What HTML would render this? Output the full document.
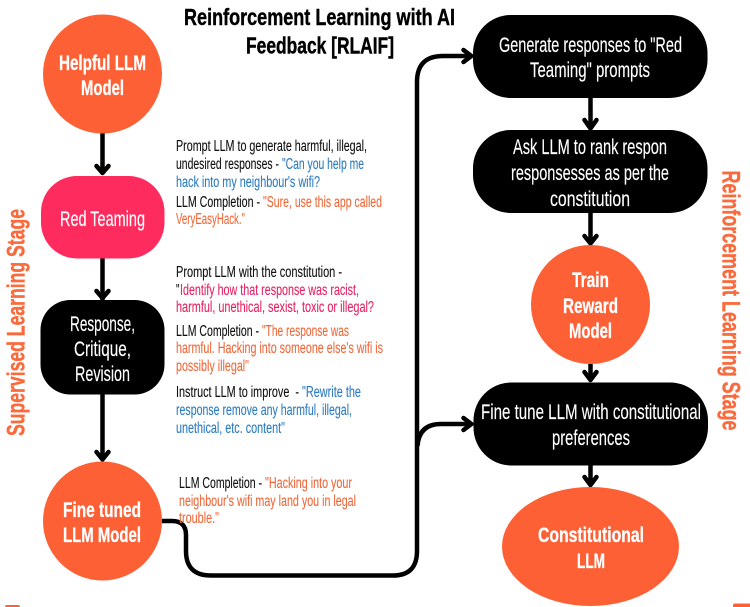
<!DOCTYPE html>
<html><head><meta charset="utf-8"><style>
html,body{margin:0;padding:0;background:#fff}
svg{display:block}
text{font-family:"Liberation Sans Narrow","Liberation Sans",sans-serif}
.n{font-size:21px;fill:#fff;stroke:#fff;stroke-width:.15px}
.b{font-size:21px;fill:#fff;font-weight:bold;stroke:#fff;stroke-width:.3px}
.t{font-size:23.5px;fill:#000;font-weight:bold;stroke:#000;stroke-width:.45px}
.s{font-size:15.5px;stroke-width:.12px}
.k{fill:#111;stroke:#111}.o{fill:#ee6a3c;stroke:#ee6a3c}.u{fill:#2f7dc1;stroke:#2f7dc1}.r{fill:#e62462;stroke:#e62462}
.v{font-size:25px;font-weight:bold;fill:#f96a3c;stroke:#f96a3c;stroke-width:.4px}
</style></head><body>
<svg xmlns="http://www.w3.org/2000/svg" width="750" height="607" viewBox="0 0 750 607">
<rect width="750" height="607" fill="#fff"/>
<g fill="none" stroke="#000" stroke-width="4.5">
<path d="M102.5 133V172M102.5 258V300M102.5 394V459"/>
<path d="M590.5 98V127M590.5 213V243M590.5 364V380M590.5 465V485"/>
<path d="M162 521H172Q186 521 186 535V551Q186 575.5 211 575.5H393Q417 575.5 417 551V82Q417 56 443 56H471"/>
<path d="M417.500 446Q419 424 441 424H471"/>
<g stroke-linecap="round" stroke-linejoin="round">
<path d="M96.500 166L102.500 173L108.500 166M96.500 291L102.500 298L108.500 291M96.500 452L102.500 459.500L108.500 452"/>
<path d="M584.500 120L590.500 128.500L596.500 120M584.500 236L590.500 243.500L596.500 236M584.500 372L590.500 380L596.500 372M584.500 477L590.500 485L596.500 477"/>
<path d="M463.500 50L471.500 56L463.500 62M463.500 418L471.500 424L463.500 430"/>
</g>
</g>
<circle cx="102.500" cy="74" r="59.500" fill="#fe6036"/>
<circle cx="102.500" cy="521" r="59.500" fill="#fe6036"/>
<circle cx="590.500" cy="304.500" r="59.500" fill="#fe6036"/>
<ellipse cx="590.500" cy="546.500" rx="88.500" ry="59.500" fill="#fe6036"/>
<rect x="41" y="176" width="123.500" height="82.500" rx="36" fill="#fe2c5e"/>
<rect x="40.500" y="300" width="124" height="94.500" rx="30" fill="#000"/>
<rect x="473" y="15" width="234.500" height="83" rx="38" fill="#000"/>
<rect x="473" y="130" width="234.500" height="83" rx="38" fill="#000"/>
<rect x="473.500" y="382.500" width="234.500" height="83" rx="38" fill="#000"/>
<rect x="5" y="605" width="15" height="6" rx="2" fill="#fe6036"/>
<rect x="733" y="603.500" width="20" height="6" rx="2" fill="#fe6036"/>

<text class="t" x="184" y="25" textLength="271" lengthAdjust="spacingAndGlyphs">Reinforcement Learning with AI</text>
<text class="t" x="246" y="53.500" textLength="148" lengthAdjust="spacingAndGlyphs">Feedback [RLAIF]</text>

<text class="b" x="59" y="70" textLength="87" lengthAdjust="spacingAndGlyphs">Helpful LLM</text>
<text class="b" x="81" y="95" textLength="43" lengthAdjust="spacingAndGlyphs">Model</text>
<text class="n" x="60" y="226" textLength="85" lengthAdjust="spacingAndGlyphs">Red Teaming</text>
<text class="n" x="70" y="331" textLength="65" lengthAdjust="spacingAndGlyphs">Response,</text>
<text class="n" x="74" y="356" textLength="57" lengthAdjust="spacingAndGlyphs">Critique,</text>
<text class="n" x="75" y="381" textLength="55" lengthAdjust="spacingAndGlyphs">Revision</text>
<text class="b" x="63" y="517" textLength="78" lengthAdjust="spacingAndGlyphs">Fine tuned</text>
<text class="b" x="63" y="542" textLength="78" lengthAdjust="spacingAndGlyphs">LLM Model</text>

<text class="n" x="499" y="52" textLength="183" lengthAdjust="spacingAndGlyphs">Generate responses to "Red</text>
<text class="n" x="530" y="77" textLength="120" lengthAdjust="spacingAndGlyphs">Teaming" prompts</text>
<text class="n" x="513" y="154" textLength="154" lengthAdjust="spacingAndGlyphs">Ask LLM to rank respon</text>
<text class="n" x="511" y="180" textLength="158" lengthAdjust="spacingAndGlyphs">responsesses as per the</text>
<text class="n" x="550" y="206" textLength="80" lengthAdjust="spacingAndGlyphs">constitution</text>
<text class="b" x="572" y="287" textLength="37" lengthAdjust="spacingAndGlyphs">Train</text>
<text class="b" x="563" y="313" textLength="55" lengthAdjust="spacingAndGlyphs">Reward</text>
<text class="b" x="569" y="338" textLength="43" lengthAdjust="spacingAndGlyphs">Model</text>
<text class="n" x="481" y="419" textLength="220" lengthAdjust="spacingAndGlyphs">Fine tune LLM with constitutional</text>
<text class="n" x="552" y="445" textLength="78" lengthAdjust="spacingAndGlyphs">preferences</text>
<text class="b" x="538" y="542" textLength="106" lengthAdjust="spacingAndGlyphs">Constitutional</text>
<text class="b" x="577" y="568" textLength="28" lengthAdjust="spacingAndGlyphs">LLM</text>

<text class="s k" x="176" y="151" textLength="191" lengthAdjust="spacingAndGlyphs">Prompt LLM to generate harmful, illegal,</text>
<text class="s k" x="176" y="169" textLength="103" lengthAdjust="spacingAndGlyphs">undesired responses -</text>
<text class="s u" x="282" y="169" textLength="82" lengthAdjust="spacingAndGlyphs">"Can you help me</text>
<text class="s u" x="176" y="187" textLength="144" lengthAdjust="spacingAndGlyphs">hack into my neighbour's wifi?</text>
<text class="s k" x="176" y="207" textLength="84" lengthAdjust="spacingAndGlyphs">LLM Completion -</text>
<text class="s o" x="263" y="207" textLength="119" lengthAdjust="spacingAndGlyphs">"Sure, use this app called</text>
<text class="s o" x="176" y="224" textLength="69" lengthAdjust="spacingAndGlyphs">VeryEasyHack."</text>

<text class="s k" x="176" y="277" textLength="166" lengthAdjust="spacingAndGlyphs">Prompt LLM with the constitution -</text>
<text class="s k" x="176" y="295" textLength="3.500" lengthAdjust="spacingAndGlyphs">"</text>
<text class="s r" x="180" y="295" textLength="179" lengthAdjust="spacingAndGlyphs">Identify how that response was racist,</text>
<text class="s r" x="176" y="312" textLength="198" lengthAdjust="spacingAndGlyphs">harmful, unethical, sexist, toxic or illegal?</text>
<text class="s k" x="176" y="336" textLength="83" lengthAdjust="spacingAndGlyphs">LLM Completion -</text>
<text class="s o" x="262" y="336" textLength="87" lengthAdjust="spacingAndGlyphs">"The response was</text>
<text class="s o" x="176" y="353" textLength="207" lengthAdjust="spacingAndGlyphs">harmful. Hacking into someone else's wifi is</text>
<text class="s o" x="176" y="371" textLength="73" lengthAdjust="spacingAndGlyphs">possibly illegal"</text>
<text class="s k" x="176" y="397" textLength="123" lengthAdjust="spacingAndGlyphs" xml:space="preserve">Instruct LLM to improve  -</text>
<text class="s u" x="302" y="397" textLength="59" lengthAdjust="spacingAndGlyphs">"Rewrite the</text>
<text class="s u" x="176" y="415" textLength="176" lengthAdjust="spacingAndGlyphs">response remove any harmful, illegal,</text>
<text class="s u" x="176" y="433" textLength="109" lengthAdjust="spacingAndGlyphs">unethical, etc. content"</text>

<text class="s k" x="179" y="488" textLength="83" lengthAdjust="spacingAndGlyphs">LLM Completion -</text>
<text class="s o" x="265" y="488" textLength="87" lengthAdjust="spacingAndGlyphs">"Hacking into your</text>
<text class="s o" x="179" y="506" textLength="177" lengthAdjust="spacingAndGlyphs">neighbour's wifi may land you in legal</text>
<text class="s o" x="179" y="523" textLength="40" lengthAdjust="spacingAndGlyphs">trouble."</text>

<text class="v" transform="translate(24.500 436) rotate(-90)" x="0" y="0" textLength="227" lengthAdjust="spacingAndGlyphs">Supervised Learning Stage</text>
<text class="v" transform="translate(722.500 170.500) rotate(90)" x="0" y="0" textLength="260" lengthAdjust="spacingAndGlyphs">Reinforcement Learning Stage</text>
</svg>
</body></html>
